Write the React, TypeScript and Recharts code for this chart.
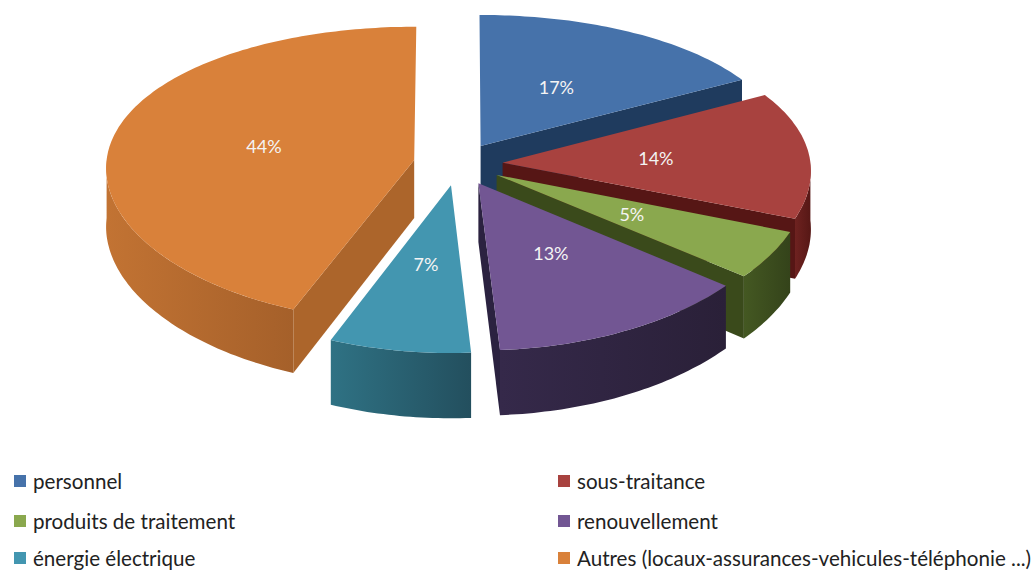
import { PieChart, Pie, Legend } from "recharts"

const categories = [
  "personnel",
  "sous-traitance",
  "produits de traitement",
  "renouvellement",
  "énergie électrique",
  "Autres (locaux-assurances-vehicules-téléphonie ...)",
]
const shares = [17, 14, 5, 13, 7, 44]

const topColors = ["#4672AA", "#A8423F", "#8AA84E", "#725693", "#4396B0", "#D9813A"]
const wallColors = [
  ["#2A4A72", "#1F3A5C"],
  ["#6E2220", "#561715"],
  ["#445822", "#34431A"],
  ["#35294A", "#2A2038"],
  ["#2F7284", "#234F5E"],
  ["#C27333", "#A5602A"],
]
const cutColors = ["#1F3B5E", "#561615", "#3A4A1B", "#2B2240", "#255868", "#AC652B"]

const data = categories.map((name, i) => ({ name, value: shares[i] }))

const W = 1034
const H = 570
const FONT = "Lato, 'Open Sans', sans-serif"

// 3d look: flattened ellipse with a bit of perspective, every slice pulled out
const RX = 308
const RY = 147
const DEPTH = 58
const KX = 0.05
const KY = 0.097
const EXPLODE = 0.145

const rad = (d: number) => (d * Math.PI) / 180

// th = degrees clockwise from 12 o'clock, r = 0..1 radius, h = 0 top / 1 bottom
function pt(cx: number, cy: number, th: number, r: number, mid: number, h: number) {
  const X = r * Math.sin(rad(th)) + EXPLODE * Math.sin(rad(mid))
  const Z = r * Math.cos(rad(th)) + EXPLODE * Math.cos(rad(mid))
  const fx = 1 / (1 + KX * Z)
  const fy = 1 / (1 + KY * Z)
  return [cx + RX * X * fx, cy - RY * Z * fy + h * DEPTH * fy]
}

function arc(cx: number, cy: number, a: number, b: number, mid: number, h: number) {
  const pts: number[][] = []
  const n = Math.max(2, Math.ceil(b - a))
  for (let i = 0; i <= n; i++) pts.push(pt(cx, cy, a + ((b - a) * i) / n, 1, mid, h))
  return pts
}

const toPath = (pts: number[][]) =>
  pts.map((p, i) => `${i ? "L" : "M"}${p[0].toFixed(1)},${p[1].toFixed(1)}`).join(" ") + " Z"

function angles(p: any) {
  const s = 90 - p.startAngle
  const e = 90 - p.endAngle
  return { s, e, m: (s + e) / 2 }
}

function renderWalls(p: any) {
  const { cx, cy, index } = p
  const { s, e, m } = angles(p)
  const face = (th: number) => [pt(cx, cy, th, 0, m, 0), pt(cx, cy, th, 1, m, 0), pt(cx, cy, th, 1, m, 1), pt(cx, cy, th, 0, m, 1)]
  const a = Math.max(s, 90)
  const b = Math.min(e, 270)
  return (
    <g key={`wall-${index}`}>
      <defs>
        <linearGradient id={`wall-${index}`} x1="0" y1="0" x2="1" y2="0">
          <stop offset="0%" stopColor={wallColors[index][0]} />
          <stop offset="100%" stopColor={wallColors[index][1]} />
        </linearGradient>
      </defs>
      {b > a && (
        <path d={toPath([...arc(cx, cy, a, b, m, 0), ...arc(cx, cy, a, b, m, 1).reverse()])} fill={`url(#wall-${index})`} />
      )}
      {Math.sin(rad(s)) < -0.01 && <path d={toPath(face(s))} fill={cutColors[index]} />}
      {Math.sin(rad(e)) > 0.01 && <path d={toPath(face(e))} fill={cutColors[index]} />}
    </g>
  )
}

function renderTop(p: any) {
  const { cx, cy, index } = p
  const { s, e, m } = angles(p)
  return <path key={`top-${index}`} d={toPath([pt(cx, cy, s, 0, m, 0), ...arc(cx, cy, s, e, m, 0)])} fill={topColors[index]} />
}

function renderPercent(p: any) {
  const { cx, cy, index } = p
  const { m } = angles(p)
  const [x, y] = pt(cx, cy, m, 0.5, m, 0)
  return (
    <text key={`pct-${index}`} x={x} y={y} textAnchor="middle" dominantBaseline="central" fill="#F4F4F4" fontSize={18} fontFamily={FONT}>
      {Math.round(p.percent * 100)}%
    </text>
  )
}

function LegendBox() {
  const rows = [15, 55, 92]
  return (
    <div style={{ position: "relative", width: W, height: 104, fontFamily: FONT, fontSize: 20.6, color: "#222" }}>
      {categories.map((c, i) => (
        <div
          key={c}
          style={{
            position: "absolute",
            left: i % 2 ? 558 : 14,
            top: rows[Math.floor(i / 2)] - 12,
            height: 24,
            display: "flex",
            alignItems: "center",
            whiteSpace: "nowrap",
          }}
        >
          <span style={{ width: 12, height: 12, background: topColors[i], marginRight: 7, display: "inline-block" }} />
          {c}
        </div>
      ))}
    </div>
  )
}

export default function App() {
  const layers = [renderWalls, renderTop, renderPercent]
  return (
    <div style={{ position: "absolute", left: 0, top: 0, width: W, height: H, background: "#fff" }}>
      <PieChart width={W} height={H} margin={{ top: 0, right: 0, bottom: 0, left: 0 }}>
        {layers.map((fn, k) => (
          <Pie
            key={k}
            data={data}
            dataKey="value"
            nameKey="name"
            cx={458}
            cy={164}
            outerRadius={140}
            startAngle={90}
            endAngle={-270}
            fill="none"
            stroke="none"
            labelLine={false}
            label={fn}
            isAnimationActive={false}
          />
        ))}
        <Legend content={() => <LegendBox />} wrapperStyle={{ position: "absolute", left: 0, top: 466, width: W }} />
      </PieChart>
    </div>
  )
}
